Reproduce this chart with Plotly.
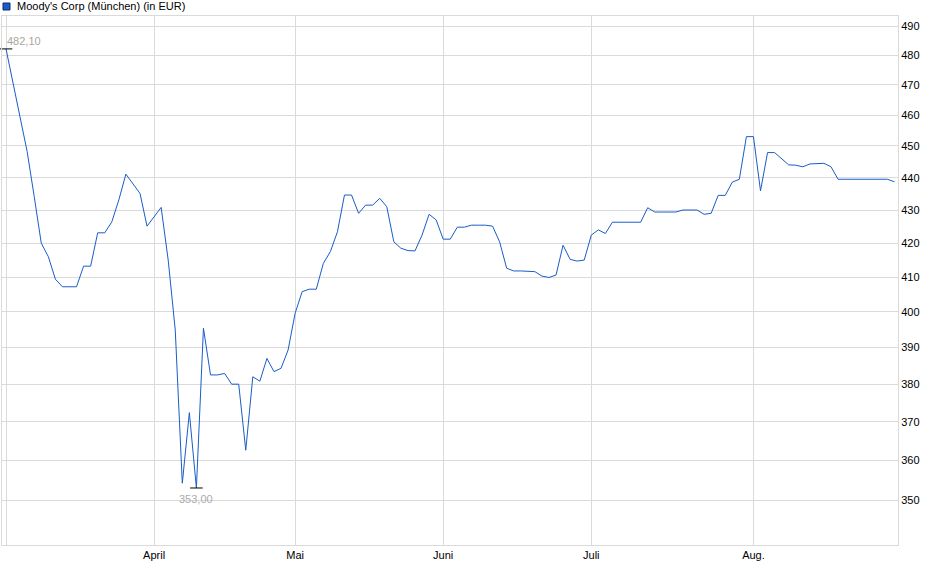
import math
import pandas as pd
import plotly.graph_objects as go

# trading days (Munich), Mar 3 - Aug 29 2025
holidays = ["2025-04-18", "2025-04-21", "2025-05-01"]
dates = [d.strftime("%Y-%m-%d") for d in
         pd.bdate_range("2025-03-03", "2025-08-29", freq="C", holidays=holidays)]

prices = [
    482.10, 470.5, 459.4, 448.2, 434.1, 420.0, 416.0, 409.4, 407.2, 407.2,
    407.2, 413.2, 413.2, 423.1, 423.1, 426.4, 433.1, 441.1, 438.2, 435.1,
    425.1, 428.0, 430.8, 415.0, 394.9, 354.2, 372.4, 353.00, 395.4, 382.5,
    382.5, 382.9, 380.0, 380.0, 362.6, 382.0, 380.8, 387.0, 383.4, 384.3,
    389.3, 399.6, 405.8, 406.5, 406.5, 414.0, 417.5, 423.4, 434.6, 434.6,
    429.0, 431.5, 431.5, 433.6, 431.0, 420.4, 418.5, 417.8, 417.7, 422.4,
    428.7, 427.0, 421.2, 421.2, 424.8, 424.8, 425.4, 425.4, 425.4, 425.1,
    420.4, 412.6, 411.8, 411.8, 411.8, 411.6, 410.3, 409.9, 410.6, 419.4,
    415.2, 414.7, 415.0, 422.4, 424.0, 422.9, 426.3, 426.3, 426.3, 426.3,
    426.3, 430.7, 429.4, 429.4, 429.4, 429.4, 430.0, 430.0, 430.0, 428.7,
    429.0, 434.5, 434.5, 438.6, 439.5, 453.0, 453.0, 435.9, 447.9, 447.9,
    445.8, 444.0, 443.9, 443.4, 444.3, 444.3, 444.5, 443.4, 439.5, 439.5,
    439.5, 439.5, 439.5, 439.5, 439.5, 439.5, 438.7,
]
assert len(dates) == len(prices)

month_ticks = ["2025-03-03", "2025-04-01", "2025-05-02", "2025-06-02", "2025-07-01", "2025-08-01"]
month_labels = ["", "April", "Mai", "Juni", "Juli", "Aug."]
y_ticks = list(range(350, 500, 10))

title_text = "Moody's Corp (München) (in EUR)"
line_color = "#1a5cc8"
grid_color = "#dadada"
font = "Liberation Sans, Arial, sans-serif"

i_max = prices.index(max(prices))
i_min = prices.index(min(prices))

fig = go.Figure()
fig.add_trace(go.Scatter(
    x=dates, y=prices, mode="lines",
    line=dict(color=line_color, width=1),
    hoverinfo="x+y", showlegend=False,
))
# small black dashes at the high and the low
fig.add_trace(go.Scatter(
    x=[dates[i_max], dates[i_min]], y=[prices[i_max], prices[i_min]],
    mode="markers",
    marker=dict(symbol="line-ew", size=9, line=dict(color="#000000", width=1)),
    cliponaxis=False, hoverinfo="skip", showlegend=False,
))

def fmt(v):
    return ("%.2f" % v).replace(".", ",")

annotations = [
    dict(x=dates[i_max], y=math.log10(prices[i_max]), text=fmt(prices[i_max]),
         showarrow=False, xanchor="left", yanchor="bottom", xshift=-1, yshift=0,
         font=dict(family=font, size=11, color="#aaa49c")),
    dict(x=dates[i_min], y=math.log10(prices[i_min]), text=fmt(prices[i_min]),
         showarrow=False, xanchor="center", yanchor="top", yshift=-3,
         font=dict(family=font, size=11, color="#a8abb0")),
    dict(x=13 / 896, y=(545 - 6) / 529, xref="paper", yref="paper", text=title_text,
         showarrow=False, xanchor="left", yanchor="middle",
         font=dict(family=font, size=11, color="#000000")),
]

shapes = [
    dict(type="rect", xref="paper", yref="paper",
         x0=1 / 896, x1=8 / 896, y0=(545 - 10) / 529, y1=(545 - 3) / 529,
         fillcolor=line_color, line=dict(color="#102a6a", width=1)),
]

fig.update_layout(
    width=940, height=579,
    margin=dict(l=2, r=42, t=16, b=34),
    paper_bgcolor="white", plot_bgcolor="white",
    font=dict(family=font, size=11, color="#000000"),
    annotations=annotations, shapes=shapes,
    xaxis=dict(
        type="category", range=[-0.57, len(dates) - 0.5],
        tickvals=month_ticks, ticktext=month_labels,
        showgrid=True, gridcolor=grid_color, gridwidth=1,
        showline=True, linecolor=grid_color, mirror=True,
        ticks="", zeroline=False, tickfont=dict(size=11, color="#000000"),
    ),
    yaxis=dict(
        type="log", side="right",
        range=[math.log10(339.0), math.log10(493.5)],
        tickvals=y_ticks, ticktext=[str(v) for v in y_ticks],
        showgrid=True, gridcolor=grid_color, gridwidth=1,
        showline=True, linecolor=grid_color, mirror=True,
        ticks="", zeroline=False, tickfont=dict(size=11, color="#000000"),
    ),
)

# page body has a default 8px margin; drop it so the figure fills the window
fig.write_html("out.html", config={"displayModeBar": False},
               post_script="document.body.style.margin='0';")
